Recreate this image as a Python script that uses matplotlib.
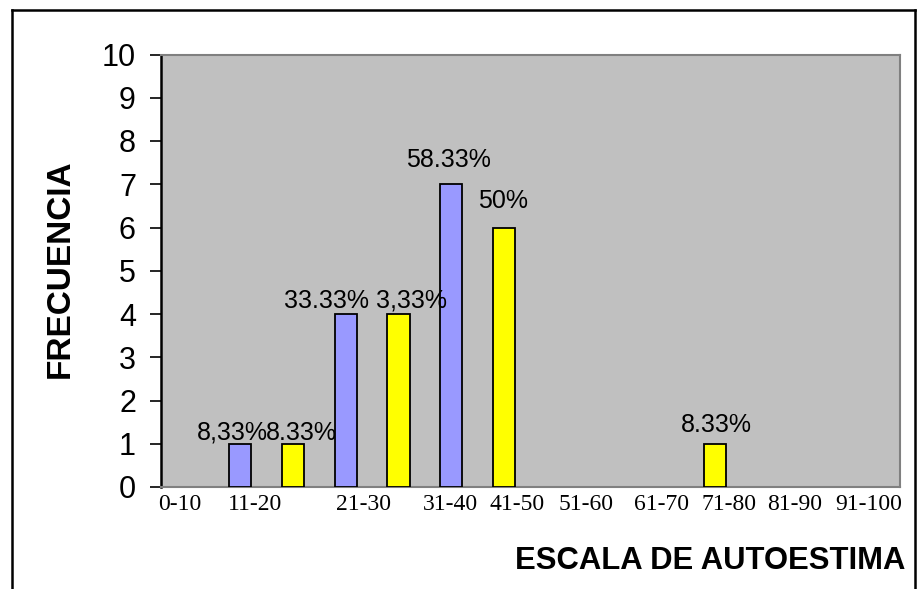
import matplotlib
matplotlib.use("Agg")
import matplotlib.pyplot as plt
from matplotlib.lines import Line2D
import numpy as np

# Frequencies per score range, paired bars (blue / yellow) in six groups
blue_freq = [1, 4, 7, 0, 0, 0]
yellow_freq = [1, 4, 6, 0, 1, 0]
blue_labels = ["8,33%", "33.33%", "58.33%", None, None, None]
yellow_labels = ["8.33%", "3,33%", "50%", None, "8.33%", None]

range_labels = ["0-10", "11-20", "21-30", "31-40", "41-50",
                "51-60", "61-70", "71-80", "81-90", "91-100"]
range_label_pos = [-0.14, 1.28, 3.34, 4.99, 6.25, 7.56, 8.98, 10.26, 11.51, 12.91]

y_ticks = list(range(0, 11))

# label offsets (points) relative to bar top centre
blue_offsets = [(-5.5, 3), (-14, 4.5), (-2, 12.5), None, None, None]
yellow_offsets = [(6, 2.5), (9.5, 4.5), (-1, 14), None, (1, 8.5), None]

W, H = 918, 589
fig = plt.figure(figsize=(W / 100, H / 100), dpi=100)
fig.patch.set_facecolor("white")

ax = fig.add_axes([161 / W, 1 - 487 / H, (900 - 161) / W, (487 - 54.5) / H])
ax.set_facecolor("#C0C0C0")

n = len(blue_freq)
group_start = np.arange(n) * 2 + 1
bw = 0.42
lab_font = dict(family="Liberation Sans", size=18, color="black")

for xs, vals, labs, offs, col in (
        (group_start, blue_freq, blue_labels, blue_offsets, "#9999FF"),
        (group_start + 1, yellow_freq, yellow_labels, yellow_offsets, "#FFFF00")):
    for x, v, lab, off in zip(xs, vals, labs, offs):
        if v == 0:
            continue
        ax.bar(x, v, width=bw, color=col, edgecolor="black", linewidth=1.3, zorder=3)
        if lab is not None:
            ax.annotate(lab, xy=(x, v), xytext=off, textcoords="offset points",
                        ha="center", va="baseline", zorder=4, **lab_font)

ax.set_xlim(-0.5, 13.5)
ax.set_ylim(0, 10)
ax.set_yticks(y_ticks)
ax.set_yticklabels([str(t) for t in y_ticks], family="Liberation Sans", fontsize=22)
ax.set_xticks(range_label_pos)
ax.set_xticklabels(range_labels, family="Liberation Serif", fontsize=17)
ax.tick_params(axis="x", length=0, pad=5)
ax.tick_params(axis="y", direction="out", length=8, width=1.2, pad=10, color="black")

ax.spines["left"].set_color("black")
ax.spines["left"].set_linewidth(1.8)
for s in ("top", "right", "bottom"):
    ax.spines[s].set_color("#808080")
    ax.spines[s].set_linewidth(1.5)

fig.text(60 / W, 1 - 269 / H, "FRECUENCIA", rotation=90, ha="center", va="center",
         family="Liberation Sans", fontweight="bold", fontsize=24)
fig.text(905 / W, 1 - 561 / H, "ESCALA DE AUTOESTIMA", ha="right", va="center",
         family="Liberation Sans", fontweight="bold", fontsize=22.3)

# chart frame (open at the bottom edge of the image)
frame_kw = dict(color="black", linewidth=1.8, transform=fig.transFigure)
fig.add_artist(Line2D([11.5 / W, 11.5 / W], [1 - 10 / H, -0.01], **frame_kw))
fig.add_artist(Line2D([11.5 / W, 915 / W], [1 - 10 / H, 1 - 10 / H], **frame_kw))
fig.add_artist(Line2D([915 / W, 915 / W], [1 - 10 / H, -0.01], **frame_kw))

fig.savefig("out.png", dpi=100)
